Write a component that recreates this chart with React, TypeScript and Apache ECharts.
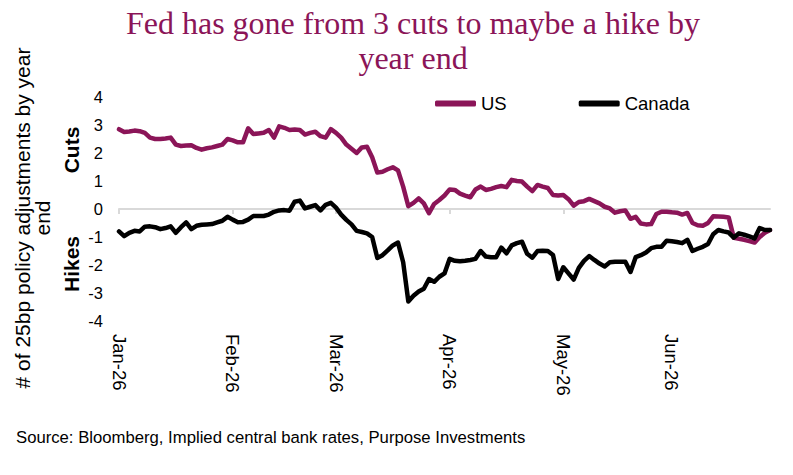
import React, { useEffect, useRef } from "react";
import * as echarts from "echarts";

const tickLabels = ["Jan-26", "Feb-26", "Mar-26", "Apr-26", "May-26", "Jun-26"];
const seriesNames = ["US", "Canada"];

const usValues = [
  2.85, 2.75, 2.77, 2.8, 2.78, 2.72, 2.55, 2.5, 2.5, 2.52,
  2.55, 2.3, 2.25, 2.27, 2.28, 2.18, 2.12, 2.17, 2.2, 2.25,
  2.3, 2.5, 2.45, 2.38, 2.38, 2.88, 2.68, 2.7, 2.72, 2.82,
  2.55, 2.95, 2.9, 2.82, 2.84, 2.82, 2.66, 2.72, 2.76, 2.6,
  2.55, 2.85, 2.72, 2.55, 2.3, 2.15, 2.0, 2.2, 2.22, 1.85,
  1.3, 1.33, 1.42, 1.49, 1.38, 0.8, 0.1, 0.22, 0.38, 0.2,
  -0.15, 0.18, 0.32, 0.48, 0.7, 0.68, 0.55, 0.48, 0.42, 0.7,
  0.8, 0.68, 0.72, 0.78, 0.82, 0.78, 1.04, 1.0, 0.98, 0.8,
  0.64, 0.86, 0.8, 0.75, 0.5, 0.48, 0.5, 0.35, 0.12, 0.25,
  0.28, 0.36, 0.28, 0.2, 0.08, 0.02, -0.13, -0.08, -0.05, -0.35,
  -0.28, -0.52, -0.55, -0.54, -0.18, -0.1, -0.1, -0.12, -0.13, -0.2,
  -0.14, -0.5, -0.58, -0.6, -0.5, -0.26, -0.27, -0.28, -0.3, -1.03,
  -1.06, -1.1, -1.15, -1.2, -1.0, -0.85, -0.75,
];

const canadaValues = [
  -0.8, -0.97, -0.85, -0.78, -0.8, -0.63, -0.62, -0.65, -0.72, -0.68,
  -0.62, -0.85, -0.65, -0.48, -0.72, -0.6, -0.56, -0.55, -0.54, -0.48,
  -0.42, -0.28, -0.38, -0.47, -0.46, -0.38, -0.25, -0.25, -0.25, -0.2,
  -0.1, -0.05, -0.04, -0.06, 0.26, 0.3, 0.02, 0.08, 0.14, -0.05,
  0.15, 0.22, 0.05, -0.2, -0.39, -0.55, -0.78, -0.82, -0.87, -1.0,
  -1.75, -1.65, -1.48, -1.3, -1.2, -1.9, -3.3, -3.1, -2.95, -2.85,
  -2.5, -2.6, -2.42, -2.3, -1.78, -1.85, -1.87, -1.85, -1.82, -1.78,
  -1.5, -1.7, -1.72, -1.72, -1.38, -1.58, -1.3, -1.22, -1.17, -1.6,
  -1.74, -1.5, -1.49, -1.5, -1.64, -2.5, -2.08, -2.3, -2.52, -2.1,
  -1.85, -1.68, -1.82, -1.95, -2.05, -1.9, -1.88, -1.88, -1.88, -2.25,
  -1.72, -1.65, -1.55, -1.4, -1.35, -1.35, -1.13, -1.15, -1.18, -1.22,
  -1.1, -1.5, -1.42, -1.35, -1.25, -0.9, -0.75, -0.8, -0.84, -1.02,
  -0.87, -0.92, -0.98, -1.05, -0.68, -0.75, -0.75,
];

// business-day categories, Jan 1 2026 .. Jun 26 2026
function buildDates(): string[] {
  const out: string[] = [];
  const d = new Date(Date.UTC(2026, 0, 1));
  const end = Date.UTC(2026, 5, 26);
  while (d.getTime() <= end) {
    const wd = d.getUTCDay();
    if (wd !== 0 && wd !== 6) out.push(d.toISOString().slice(0, 10));
    d.setUTCDate(d.getUTCDate() + 1);
  }
  return out;
}

const dates = buildDates();
const monthStart: Record<number, number> = {};
{
  let last = "";
  dates.forEach((s, i) => {
    const m = s.slice(0, 7);
    if (m !== last) {
      monthStart[i] = Number(s.slice(5, 7)) - 1;
      last = m;
    }
  });
}

const US_COLOR = "#8b1558";
const SANS = "'Liberation Sans', Arial, sans-serif";
const SERIF = "'Liberation Serif', serif";

export default function App() {
  const ref = useRef<HTMLDivElement>(null);
  useEffect(() => {
    if (!ref.current) return;
    const chart = echarts.init(ref.current, undefined, { renderer: "svg" });
    const isStart = (idx: number) => monthStart[idx] !== undefined;
    const centered = { align: "center", verticalAlign: "middle", textAlign: "center", textVerticalAlign: "middle" };
    chart.setOption({
      animation: false,
      backgroundColor: "#ffffff",
      textStyle: { fontFamily: SANS },
      grid: { left: 119, right: 23, top: 97, bottom: 154, containLabel: false },
      legend: {
        data: seriesNames,
        left: 430,
        top: 89,
        icon: "roundRect",
        itemWidth: 41,
        itemHeight: 6,
        itemGap: 72,
        textStyle: { fontSize: 18.5, color: "#000", fontFamily: SANS },
      },
      xAxis: [
        {
          type: "category",
          data: dates,
          boundaryGap: false,
          position: "bottom",
          axisLine: { show: true, onZero: true, lineStyle: { color: "#d9d9d9", width: 2 } },
          axisTick: {
            show: true,
            interval: (idx: number) => isStart(idx),
            length: 5,
            lineStyle: { color: "#d9d9d9", width: 2 },
          },
          axisLabel: { show: false },
        },
        {
          type: "category",
          data: dates,
          boundaryGap: false,
          position: "bottom",
          axisLine: { show: false, onZero: false },
          axisTick: { show: false },
          axisLabel: {
            show: true,
            interval: (idx: number) => isStart(idx),
            rotate: -90,
            margin: 13,
            fontSize: 18.5,
            color: "#000",
            fontFamily: SANS,
            formatter: (_v: string, idx: number) =>
              monthStart[idx] !== undefined ? tickLabels[monthStart[idx]] : "",
          },
        },
      ],
      yAxis: {
        type: "value",
        min: -4,
        max: 4,
        interval: 1,
        axisLine: { show: false },
        axisTick: { show: false },
        splitLine: { show: false },
        axisLabel: { fontSize: 16.5, color: "#000", margin: 16, fontFamily: SANS },
      },
      series: [
        {
          name: seriesNames[0],
          type: "line",
          data: usValues,
          xAxisIndex: 0,
          showSymbol: false,
          symbol: "none",
          color: US_COLOR,
          lineStyle: { color: US_COLOR, width: 4.5, cap: "round", join: "round" },
          z: 3,
        },
        {
          name: seriesNames[1],
          type: "line",
          data: canadaValues,
          xAxisIndex: 0,
          showSymbol: false,
          symbol: "none",
          color: "#000000",
          lineStyle: { color: "#000000", width: 4.5, cap: "round", join: "round" },
          z: 4,
        },
      ],
      graphic: [
        {
          type: "text",
          x: 413,
          y: 23,
          style: {
            text: "Fed has gone from 3 cuts to maybe a hike by",
            fill: US_COLOR,
            fontSize: 32,
            fontFamily: SERIF,
            ...centered,
          },
        },
        {
          type: "text",
          x: 413,
          y: 58,
          style: { text: "year end", fill: US_COLOR, fontSize: 32, fontFamily: SERIF, ...centered },
        },
        {
          type: "text",
          x: 32,
          y: 218,
          rotation: Math.PI / 2,
          style: {
            text: "# of 25bp policy adjustments by year\nend",
            fill: "#000",
            fontSize: 21,
            lineHeight: 20,
            fontFamily: SANS,
            ...centered,
          },
        },
        {
          type: "text",
          x: 71,
          y: 150,
          rotation: Math.PI / 2,
          style: { text: "Cuts", fill: "#000", fontSize: 21, fontWeight: "bold", fontFamily: SANS, ...centered },
        },
        {
          type: "text",
          x: 71,
          y: 264,
          rotation: Math.PI / 2,
          style: { text: "Hikes", fill: "#000", fontSize: 21, fontWeight: "bold", fontFamily: SANS, ...centered },
        },
        {
          type: "text",
          x: 16,
          y: 437,
          style: {
            text: "Source: Bloomberg, Implied central bank rates, Purpose Investments",
            fill: "#000",
            fontSize: 16.7,
            fontFamily: SANS,
            align: "left",
            verticalAlign: "middle",
            textAlign: "left",
            textVerticalAlign: "middle",
          },
        },
      ],
    });
    return () => chart.dispose();
  }, []);
  return (
    <div
      ref={ref}
      style={{ position: "fixed", left: 0, top: 0, width: 793, height: 475, background: "#fff" }}
    />
  );
}
